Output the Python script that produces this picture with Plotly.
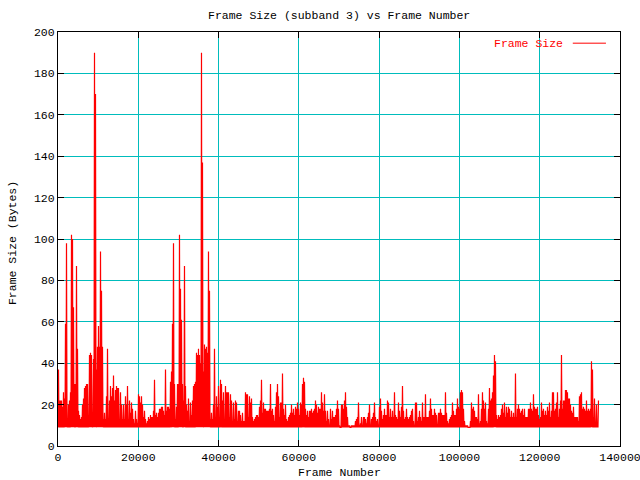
import plotly.graph_objects as go

# ---- data (one peak value per ~249-frame column) ----
frame_step = 249.1          # frames covered by one column of the trace
min_frame_size = 9          # lowest frame size (bytes), floor of every column

peak_sizes = [
    # frames 0 .. ~23.6k
    37,22,22,22,19,26,23,59,98,13, 20,22,26,102,100,67,30,30,87,47,
    17,15,13,14,20,23,28,29,30,30, 13,44,45,44,16,42,190,170,37,48,
    58,48,94,75,48,13,16,13,24,47, 13,22,29,24,28,34,22,27,29,28,
    28,13,26,20,13,20,13,24,20,29, 13,22,16,21,18,13,11,17,13,11,
    25,24,21,24,20,14,17,13,11,12, 14,13,15,14,14,
    # ~23.7k .. ~46.6k
    17,32,15,16,14,16,18,18,19,19, 17,15,37,17,19,19,18,31,36,59,
    98,30,13,19,30,30,102,76,61,30, 22,87,29,20,17,23,12,21,15,22,
    29,30,31,45,44,47,44,40,190,137, 36,49,47,48,45,94,75,13,16,13,
    20,47,14,
    24,19,29,14,32,30,22,26,13,29, 26,26,26,14,25,22,12,21,13,22,
    21,12,17,17,15,12,16,12,12,
    # ~46.8k .. ~69.0k
    26,25,25,14,24,21,23,14,12,13, 14,15,15,14,19,22,32,16,21,18,
    18,17,17,17,18,30,17,18,15,12, 19,26,30,24,14,21,21,35,18,15,
    20,13,12,14,15,16,20,16,18,15, 19,18,21,18,15,21,20,30,33,31,
    18,15,17,14,17,17,18,16,17,18, 22,20,16,19,18,18,26,21,17,25,
    17,12,17,13,10,18,13,17,14,14,
    # ~69.2k .. ~91.4k
    15,18,22,18,10,9,20,20,18,22, 26,19,14,10,10,9,10,10,10,10,
    12,13,14,21,10,11,14,10,14,14, 13,11,14,16,20,10,13,14,16,21,
    14,12,13,10,19,23,17,13,15,18, 15,15,22,21,14,18,14,17,14,26,
    15,14,13,21,17,14,19,29,17,13, 14,18,14,13,14,15,17,18,12,10,
    21,21,12,14,17,14,12,21,14,14,
    # ~91.6k .. ~113.8k
    25,14,14,14,17,23,18,15,15,18, 16,15,10,16,16,18,16,15,15,15,
    26,16,12,11,13,14,15,21,17,15, 15,18,23,19,18,26,27,26,18,12,
    10,10,10,9,9,12,21,18,19,17, 14,14,13,25,11,12,18,26,22,18,
    21,12,11,18,28,22,23,26,34,44, 41,15,13,15,14,15,18,20,16,21,
    14,19,16,19,18,14,17,14,16,14,
    # ~114.0k .. ~134.5k
    35,14,18,20,18,16,17,18,15,18, 14,14,14,18,18,21,18,17,25,19,
    18,18,19,15,13,14,21,17,18,15, 17,15,19,17,21,14,17,26,26,17,
    18,21,26,14,18,22,44,18,22,22, 27,27,26,23,23,20,17,16,19,14,
    14,14,14,12,24,25,26,18,19,18, 17,22,17,18,17,18,41,37,14,23,
    11,20,11,22,
]

x_tick_vals = [0, 20000, 40000, 60000, 80000, 100000, 120000, 140000]
x_tick_text = ["0", "20000", "40000", "60000", "80000", "100000", "120000", "140000"]
y_tick_vals = [0, 20, 40, 60, 80, 100, 120, 140, 160, 180, 200]

title_text = "Frame Size (subband 3) vs Frame Number"
x_label = "Frame Number"
y_label = "Frame Size (Bytes)"
series_name = "Frame Size"

# ---- build the trace: every column runs from the floor up to its peak ----
xs, ys = [], []
for i, p in enumerate(peak_sizes):
    f0 = i * frame_step
    xs += [f0, f0 + frame_step / 2]
    ys += [min_frame_size, p]

RED = "#ff0000"
GRID = "#00bcbc"
FONT = "Liberation Mono, DejaVu Sans Mono, monospace"

fig = go.Figure()
fig.add_trace(go.Scatter(
    x=xs, y=ys, mode="lines", name=series_name,
    line=dict(color=RED, width=1.2), showlegend=False, hoverinfo="skip",
))

axis_common = dict(
    showline=True, linecolor="black", linewidth=1, mirror="allticks",
    ticks="inside", ticklen=6, tickcolor="black", tickwidth=1,
    showgrid=True, gridcolor=GRID, gridwidth=1, zeroline=False,
    tickfont=dict(family=FONT, size=11.5, color="black"),
    ticklabeloverflow="allow",
)

fig.update_layout(
    width=640, height=480,
    margin=dict(l=58, r=20, t=32, b=34, autoexpand=False),
    paper_bgcolor="white", plot_bgcolor="white",
    font=dict(family=FONT, size=11.5, color="black"),
    xaxis=dict(range=[0, 140000], tickvals=x_tick_vals, ticktext=x_tick_text,
               **axis_common),
    yaxis=dict(range=[0, 200], tickvals=y_tick_vals, **axis_common),
    showlegend=False,
)

ann = [
    dict(text=title_text, xref="paper", yref="paper", x=0.5, y=1.041,
         xanchor="center", yanchor="middle", showarrow=False,
         font=dict(family=FONT, size=11.5, color="black")),
    dict(text=x_label, xref="paper", yref="paper", x=0.5, y=-0.065,
         xanchor="center", yanchor="middle", showarrow=False,
         font=dict(family=FONT, size=11.5, color="black")),
    dict(text=y_label, xref="paper", yref="paper", x=-0.082, y=0.49,
         xanchor="center", yanchor="middle", showarrow=False, textangle=-90,
         font=dict(family=FONT, size=11.5, color="black")),
    # key (gnuplot style: text then line sample)
    dict(text=series_name, xref="paper", yref="paper", x=0.902, y=0.973,
         xanchor="right", yanchor="middle", showarrow=False,
         font=dict(family=FONT, size=11.5, color=RED)),
]
fig.update_layout(annotations=ann)
fig.add_shape(type="line", xref="paper", yref="paper",
              x0=0.916, x1=0.975, y0=0.973, y1=0.973,
              line=dict(color=RED, width=1))

fig.write_html(
    "out.html",
    config={"displayModeBar": False},
    post_script="document.body.style.margin='0';document.body.style.overflow='hidden';",
)
